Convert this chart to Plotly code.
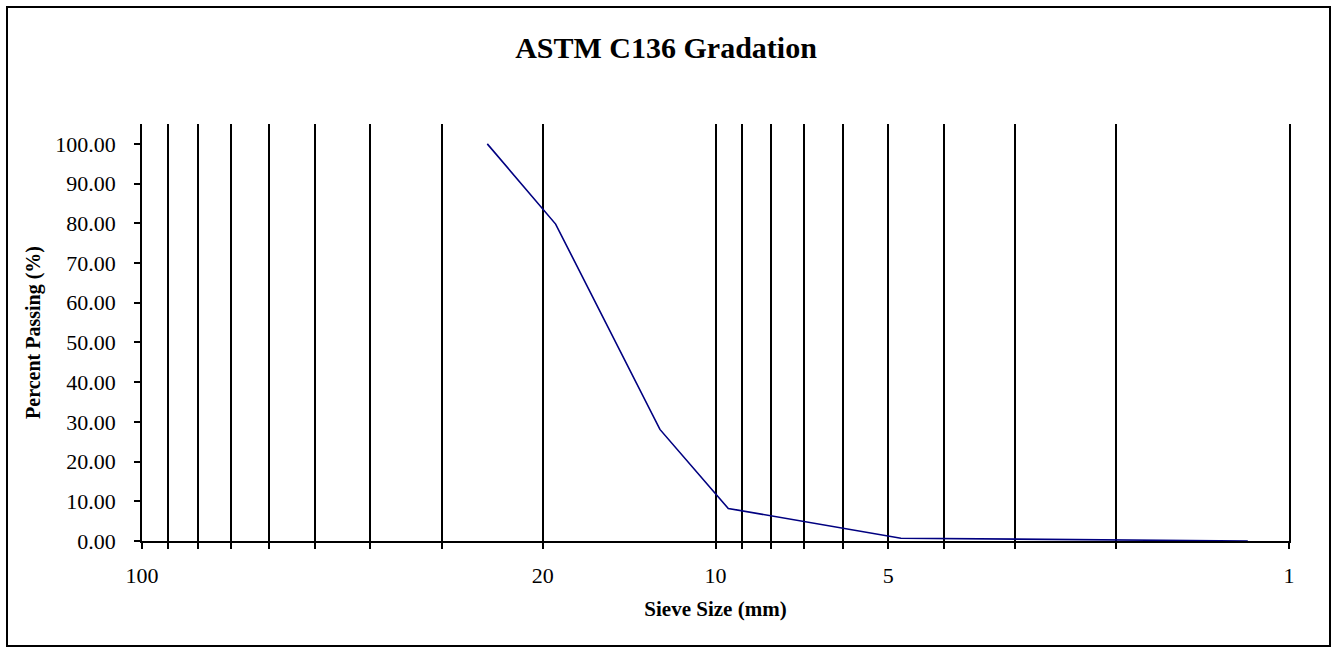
import plotly.graph_objects as go

# Data
sieve_mm = [25, 19, 12.5, 9.5, 4.75, 2.36, 1.18]
percent_passing = [100.0, 79.8, 28.1, 8.2, 0.7, 0.3, 0.0]

grid_vals = [100, 90, 80, 70, 60, 50, 40, 30, 20, 10, 9, 8, 7, 6, 5, 4, 3, 2, 1]
labelled = {100: "100", 20: "20", 10: "10", 5: "5", 1: "1"}
grid_text = [labelled.get(v, "") for v in grid_vals]

y_ticks = [0, 10, 20, 30, 40, 50, 60, 70, 80, 90, 100]

W, H = 1332, 648
L, R, T, B = 142, 43, 124, 107
pw, ph = W - L - R, H - T - B

fig = go.Figure()
fig.add_trace(go.Scatter(
    x=sieve_mm, y=percent_passing, mode="lines",
    line=dict(color="#000080", width=1.6),
    showlegend=False, hoverinfo="x+y",
))

font_fam = "Liberation Serif, Times New Roman, serif"

fig.update_layout(
    width=W, height=H,
    margin=dict(l=L, r=R, t=T, b=B),
    paper_bgcolor="white", plot_bgcolor="white",
    font=dict(family=font_fam, color="black"),
    title=dict(text="<b>ASTM C136 Gradation</b>", x=0.5, xref="container",
               y=1 - 47 / H, yanchor="middle", xanchor="center",
               font=dict(size=30, family=font_fam, color="black")),
    xaxis=dict(
        type="log", range=[2, 0],
        tickmode="array", tickvals=grid_vals, ticktext=grid_text,
        showgrid=True, gridcolor="black", gridwidth=1.5,
        ticks="outside", ticklen=6, tickcolor="black", tickwidth=1.5,
        showline=True, linecolor="black", linewidth=1.5,
        tickfont=dict(size=22, family=font_fam),
        ticklabelstandoff=8,
        title=dict(text="<b>Sieve Size (mm)</b>", font=dict(size=21, family=font_fam), standoff=14),
        zeroline=False,
    ),
    yaxis=dict(
        range=[0, 105],
        tickmode="array", tickvals=y_ticks, tickformat=".2f",
        showgrid=False,
        ticks="outside", ticklen=6, tickcolor="black", tickwidth=1.5,
        showline=True, linecolor="black", linewidth=1.5, mirror=True,
        tickfont=dict(size=22, family=font_fam),
        ticklabelstandoff=14,
        title=dict(text="<b>Percent Passing (%)</b>", font=dict(size=20, family=font_fam), standoff=9),
        zeroline=False,
    ),
)

# Outer chart border
fig.add_shape(
    type="rect", xref="paper", yref="paper",
    x0=(7 - L) / pw, x1=(1330 - L) / pw,
    y0=(H - B - 646) / ph, y1=(H - B - 7) / ph,
    line=dict(color="black", width=2), fillcolor="rgba(0,0,0,0)", layer="below",
)

fig.write_html("out.html", config={"displayModeBar": False},
               post_script="document.body.style.margin='0';")
